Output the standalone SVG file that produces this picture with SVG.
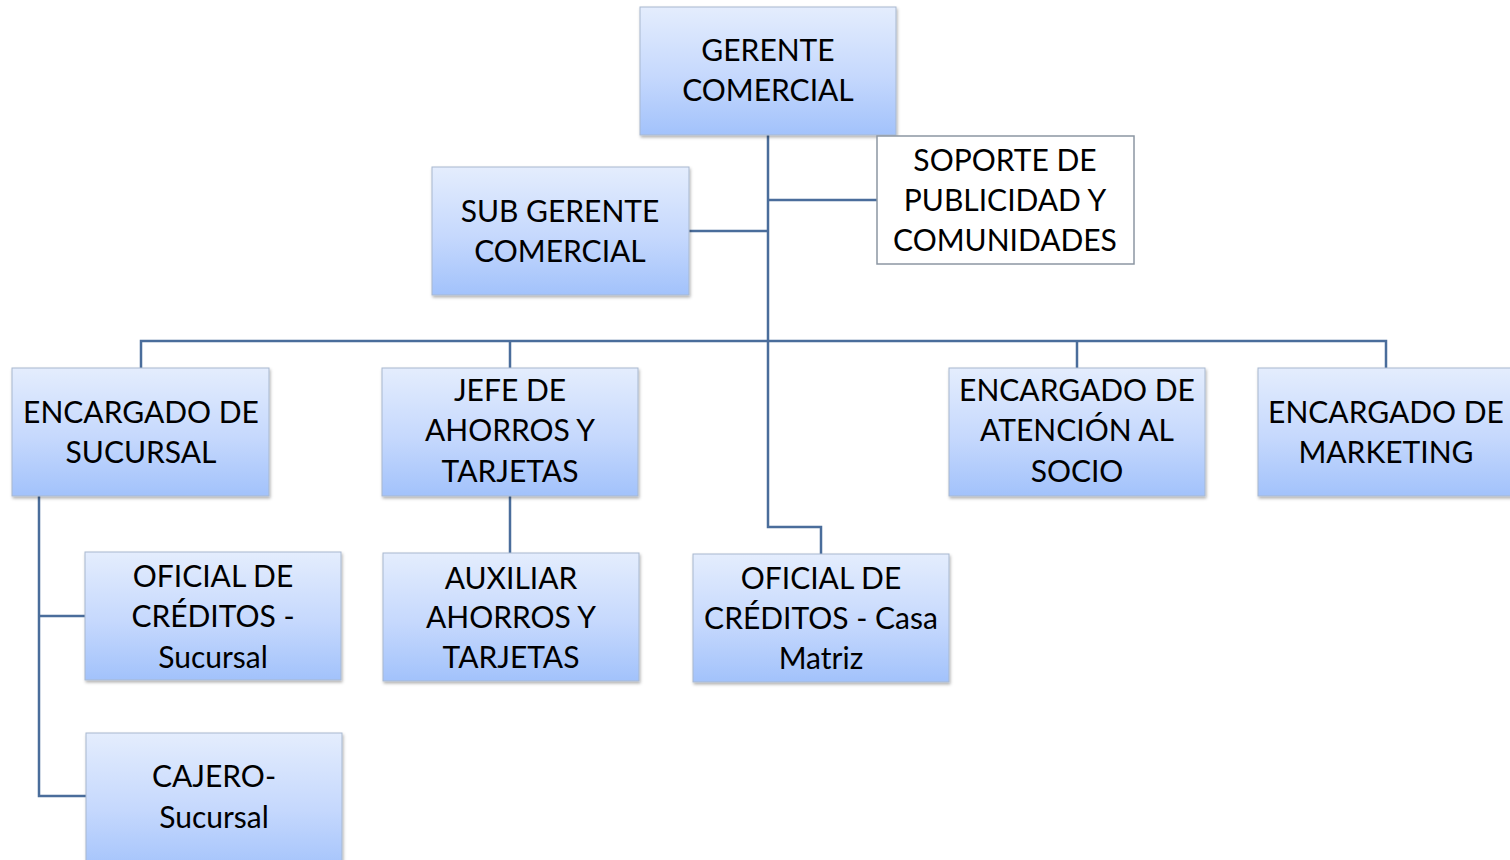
<svg xmlns="http://www.w3.org/2000/svg" width="1510" height="860" viewBox="0 0 1510 860">
<defs>
<linearGradient id="g" x1="0" y1="0" x2="0" y2="1">
<stop offset="0" stop-color="#e4edfd"/>
<stop offset="0.55" stop-color="#c5d8fd"/>
<stop offset="1" stop-color="#a2c2fb"/>
</linearGradient>
<filter id="sh" x="-5%" y="-5%" width="115%" height="115%">
<feDropShadow dx="1" dy="2" stdDeviation="1.5" flood-color="#000" flood-opacity="0.3"/>
</filter>
</defs>
<style>
.box{fill:url(#g);stroke:#a8b8cf;stroke-width:1;filter:url(#sh)}
.wbox{fill:#fff;stroke:#8c96a3;stroke-width:1.5}
text{font-family:Lato,"Open Sans","Liberation Sans",sans-serif;font-size:30px;fill:#000;text-anchor:middle}
.c{fill:none;stroke:#4a6d9b;stroke-width:2.5}
</style>
<rect width="1510" height="860" fill="#fff"/>
<g id="connectors">
<path class="c" d="M768 135V527H821V554"/>
<path class="c" d="M768 200H877"/>
<path class="c" d="M689 231H768"/>
<path class="c" d="M141 368V341H1386V368"/>
<path class="c" d="M510 341V368"/>
<path class="c" d="M1077 341V368"/>
<path class="c" d="M510 496V553"/>
<path class="c" d="M39 496V796H86"/>
<path class="c" d="M39 616H85"/>
</g>
<g id="gerente">
<rect class="box" x="640" y="7" width="256" height="128"/>
<text x="768" y="61">GERENTE</text>
<text x="768" y="101">COMERCIAL</text>
</g>
<g id="soporte">
<rect class="wbox" x="877" y="136" width="257" height="128"/>
<text x="1005" y="171">SOPORTE DE</text>
<text x="1005" y="211">PUBLICIDAD Y</text>
<text x="1005" y="251">COMUNIDADES</text>
</g>
<g id="subgerente">
<rect class="box" x="432" y="167" width="257" height="128"/>
<text x="560" y="222">SUB GERENTE</text>
<text x="560" y="262">COMERCIAL</text>
</g>
<g id="enc-sucursal">
<rect class="box" x="12" y="368" width="257" height="128"/>
<text x="141" y="423">ENCARGADO DE</text>
<text x="141" y="463">SUCURSAL</text>
</g>
<g id="jefe">
<rect class="box" x="382" y="368" width="256" height="128"/>
<text x="510" y="401">JEFE DE</text>
<text x="510" y="441">AHORROS Y</text>
<text x="510" y="482">TARJETAS</text>
</g>
<g id="atencion">
<rect class="box" x="949" y="368" width="256" height="128"/>
<text x="1077" y="401">ENCARGADO DE</text>
<text x="1077" y="441">ATENCIÓN AL</text>
<text x="1077" y="482">SOCIO</text>
</g>
<g id="marketing">
<rect class="box" x="1258" y="368" width="256" height="128"/>
<text x="1386" y="423">ENCARGADO DE</text>
<text x="1386" y="463">MARKETING</text>
</g>
<g id="oficial-sucursal">
<rect class="box" x="85" y="552" width="256" height="128"/>
<text x="213" y="587">OFICIAL DE</text>
<text x="213" y="627">CRÉDITOS -</text>
<text x="213" y="668">Sucursal</text>
</g>
<g id="auxiliar">
<rect class="box" x="383" y="553" width="256" height="128"/>
<text x="511" y="589">AUXILIAR</text>
<text x="511" y="628">AHORROS Y</text>
<text x="511" y="668">TARJETAS</text>
</g>
<g id="oficial-matriz">
<rect class="box" x="693" y="554" width="256" height="128"/>
<text x="821" y="589">OFICIAL DE</text>
<text x="821" y="629">CRÉDITOS - Casa</text>
<text x="821" y="669">Matriz</text>
</g>
<g id="cajero">
<rect class="box" x="86" y="733" width="256" height="140"/>
<text x="214" y="787">CAJERO-</text>
<text x="214" y="828">Sucursal</text>
</g>
</svg>
